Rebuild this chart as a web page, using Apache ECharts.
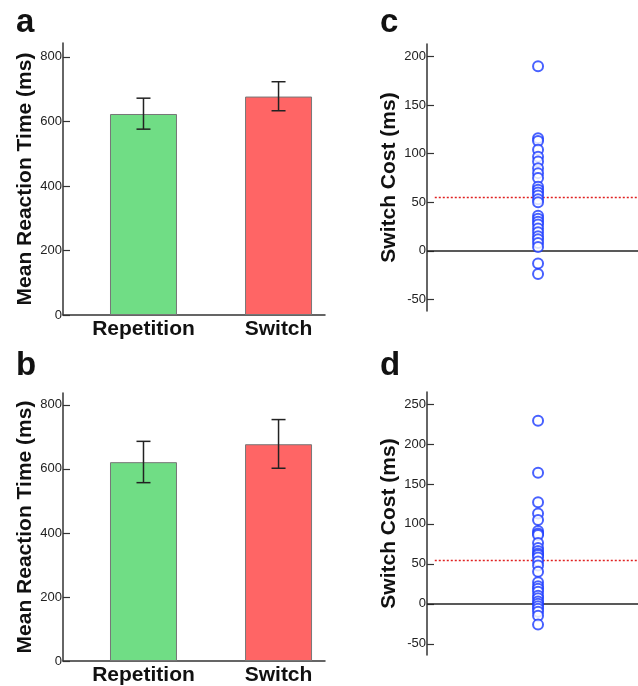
<!DOCTYPE html>
<html lang="en">
<head>
    <meta charset="utf-8">
    <title>Switch cost</title>
    <script src="https://cdn.jsdelivr.net/npm/echarts@6/dist/echarts.min.js"></script>
    <style>
        html, body {
            margin: 0;
            padding: 0;
            background: #fff;
        }
    </style>
</head>
<body>
<div id="chart" style="width: 638px; height: 686px;"></div>

<script>
    // bar panels (a, b)
    var conditions = ['Repetition', 'Switch'];
    var meanA = [623, 677];
    var errLowA = [576, 633];
    var errHighA = [672, 723];
    var meanB = [621, 677];
    var errLowB = [557, 602];
    var errHighB = [686, 754];
    var rtTicks = [0, 200, 400, 600, 800];

    // scatter panels (c, d) - individual switch costs
    var costC = [190, 116, 113, 104, 97, 92, 85, 80, 75, 66, 63, 60, 57, 53, 50,
                 36, 33, 30, 27, 23, 19, 15, 12, 8, 4, -13, -24];
    var costD = [229, 164, 127, 113, 105, 91, 88, 86, 76, 70, 66, 63, 61, 58, 53,
                 48, 40, 27, 22, 19, 15, 10, 7, 3, 0, -3, -6, -10, -15, -26];
    var meanCostC = 55;
    var meanCostD = 55;
    var costTicksC = [-50, 0, 50, 100, 150, 200];
    var costTicksD = [-50, 0, 50, 100, 150, 200, 250];

    var FONT = 'Liberation Sans, Arial, sans-serif';
    var barColors = ['#70DD85', '#FF6565'];
    var axisLine = { lineStyle: { color: '#333', width: 1.5 } };

    function pairs(vals) {
        return vals.map(function (v, i) { return [i + 1, v]; });
    }

    function errorItem(params, api) {
        var x = api.value(0);
        var lo = api.coord([x, api.value(1)]);
        var hi = api.coord([x, api.value(2)]);
        var cap = 7;
        var st = { stroke: '#222', lineWidth: 1.5 };
        return {
            type: 'group',
            children: [
                { type: 'line', shape: { x1: lo[0], y1: lo[1], x2: hi[0], y2: hi[1] }, style: st },
                { type: 'line', shape: { x1: lo[0] - cap, y1: lo[1], x2: lo[0] + cap, y2: lo[1] }, style: st },
                { type: 'line', shape: { x1: hi[0] - cap, y1: hi[1], x2: hi[0] + cap, y2: hi[1] }, style: st }
            ]
        };
    }

    function barXAxis(idx) {
        return {
            gridIndex: idx, type: 'value', min: 0.404, max: 2.344,
            splitLine: { show: false },
            axisLine: axisLine,
            axisTick: { show: false },
            axisLabel: {
                customValues: [1, 2],
                formatter: function (v) { return conditions[Math.round(v) - 1]; },
                fontFamily: FONT, fontSize: 21, fontWeight: 'bold', color: '#111', margin: 4
            }
        };
    }

    function yAxis(idx, min, max, ticks, name) {
        return {
            gridIndex: idx, type: 'value', min: min, max: max,
            name: name, nameLocation: 'middle', nameGap: 27,
            nameTextStyle: { fontFamily: FONT, fontSize: 21, fontWeight: 'bold', color: '#111' },
            splitLine: { show: false },
            axisLine: { show: true, onZero: false, lineStyle: { color: '#333', width: 1.5 } },
            axisTick: { show: true, inside: true, length: 7, customValues: ticks, lineStyle: { color: '#333', width: 1.2 } },
            axisLabel: { customValues: ticks, fontFamily: FONT, fontSize: 13, color: '#222', margin: 1 }
        };
    }

    function scatterXAxis(idx) {
        return {
            gridIndex: idx, type: 'value', min: 0, max: 1.9,
            axisLine: { show: false }, axisTick: { show: false },
            axisLabel: { show: false }, splitLine: { show: false }
        };
    }

    function barSeries(idx, means) {
        return {
            type: 'bar', xAxisIndex: idx, yAxisIndex: idx, barWidth: 67,
            data: pairs(means).map(function (p, i) {
                return { value: p, itemStyle: { color: barColors[i] } };
            }),
            itemStyle: { borderColor: '#777', borderWidth: 1 },
            silent: true
        };
    }

    function errSeries(idx, lows, highs) {
        return {
            type: 'custom', xAxisIndex: idx, yAxisIndex: idx, z: 5,
            renderItem: errorItem,
            data: lows.map(function (l, i) { return [i + 1, l, highs[i]]; })
        };
    }

    function scatterSeries(idx, vals) {
        return {
            type: 'scatter', xAxisIndex: idx, yAxisIndex: idx, z: 5,
            symbol: 'emptyCircle', symbolSize: 10,
            itemStyle: { color: '#1A3AFF', borderWidth: 2 },
            data: vals.map(function (v) { return [1, v]; })
        };
    }

    function refLines(idx, mean) {
        return {
            type: 'line', xAxisIndex: idx, yAxisIndex: idx, z: 2,
            data: [], silent: true,
            markLine: {
                silent: true, symbol: 'none', label: { show: false },
                animation: false,
                data: [
                    [{ coord: [0, 0], lineStyle: { color: '#222', width: 1.5, type: 'solid' } }, { coord: [1.9, 0] }],
                    [{ coord: [0.07, mean], lineStyle: { color: '#E02020', width: 1.3, type: [2, 2] } }, { coord: [1.9, mean] }]
                ]
            }
        };
    }

    var chart = echarts.init(document.getElementById('chart'));
    var option = {
        animation: false,
        backgroundColor: '#fff',
        grid: [
            { left: 63, top: 43, width: 262, height: 272 },
            { left: 63, top: 393, width: 262, height: 270 },
            { left: 427, top: 44, right: 0, height: 267 },
            { left: 427, top: 392, right: 0, height: 263 }
        ],
        xAxis: [barXAxis(0), barXAxis(1), scatterXAxis(2), scatterXAxis(3)],
        yAxis: [
            yAxis(0, 0, 843, rtTicks, 'Mean Reaction Time (ms)'),
            yAxis(1, 0, 837, rtTicks, 'Mean Reaction Time (ms)'),
            yAxis(2, -62, 213, costTicksC, 'Switch Cost (ms)'),
            yAxis(3, -64, 265, costTicksD, 'Switch Cost (ms)')
        ],
        graphic: [
            { type: 'text', left: 16, top: 6, style: { text: 'a', font: 'bold 33px ' + FONT, fill: '#111' } },
            { type: 'text', left: 16, top: 349, style: { text: 'b', font: 'bold 33px ' + FONT, fill: '#111' } },
            { type: 'text', left: 380, top: 6, style: { text: 'c', font: 'bold 33px ' + FONT, fill: '#111' } },
            { type: 'text', left: 380, top: 349, style: { text: 'd', font: 'bold 33px ' + FONT, fill: '#111' } }
        ],
        series: [
            barSeries(0, meanA), errSeries(0, errLowA, errHighA),
            barSeries(1, meanB), errSeries(1, errLowB, errHighB),
            refLines(2, meanCostC), scatterSeries(2, costC),
            refLines(3, meanCostD), scatterSeries(3, costD)
        ]
    };
    chart.setOption(option);
</script>
</body>
</html>
